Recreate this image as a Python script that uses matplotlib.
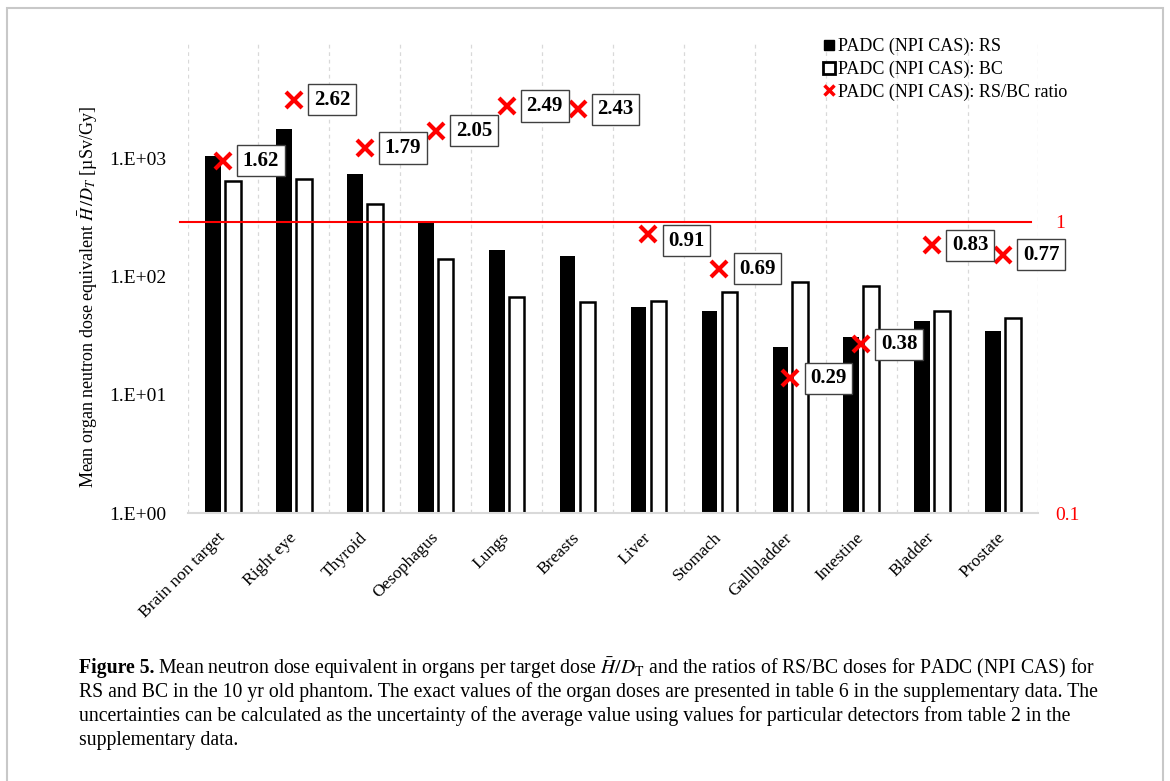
import matplotlib.pyplot as plt
import numpy as np
from matplotlib.lines import Line2D
from matplotlib.patches import Rectangle
from matplotlib.transforms import blended_transform_factory

plt.rcParams["font.family"] = ["Liberation Serif", "DejaVu Serif"]
plt.rcParams["mathtext.fontset"] = "stix"

# data
organs = ["Brain non target", "Right eye", "Thyroid", "Oesophagus", "Lungs", "Breasts",
          "Liver", "Stomach", "Gallbladder", "Intestine", "Bladder", "Prostate"]
rs_dose = [1047, 1762, 740, 288, 168, 148, 55.7, 50.6, 25.6, 31.0, 41.7, 34.3]
bc_dose = [644, 670, 411, 140, 67.3, 61.1, 61.6, 73.8, 89.0, 83.4, 50.6, 44.5]
ratio = [1.62, 2.62, 1.79, 2.05, 2.49, 2.43, 0.91, 0.69, 0.29, 0.38, 0.83, 0.77]
ratio_text = ["1.62", "2.62", "1.79", "2.05", "2.49", "2.43",
              "0.91", "0.69", "0.29", "0.38", "0.83", "0.77"]
ytick_vals = [1, 10, 100, 1000]
ytick_text = ["1.E+00", "1.E+01", "1.E+02", "1.E+03"]

fig = plt.figure(figsize=(11.7, 7.81), dpi=100)
ax = fig.add_axes([0.1603, 0.3428, 0.7273, 0.6022])
ax2 = ax.twinx()

x = np.arange(len(organs))
w = 0.22
ax.bar(x - 0.14, rs_dose, w, color="black", zorder=2)
ax.bar(x + 0.14, bc_dose, w, color="white", edgecolor="black", linewidth=1.8, zorder=2)

ax.set_yscale("log")
ax.set_ylim(1, 10 ** 3.972)
ax.set_xlim(-0.5, 11.5)
ax.set_yticks(ytick_vals)
ax.set_yticklabels(ytick_text, fontsize=14)
ax.yaxis.set_minor_locator(plt.NullLocator())
ax.tick_params(axis="y", length=0, pad=15)

# category labels, rotated, ending just under each category
ax.set_xticks(x)
ax.set_xticklabels([])
ax.tick_params(axis="x", which="major", length=0)
trans = blended_transform_factory(ax.transData, ax.transAxes)
for i, name in enumerate(organs):
    ax.text(x[i], -22 / 470, name, transform=trans, fontsize=12.6,
            rotation=45, ha="right", va="center", rotation_mode="anchor")

ax.set_xticks(np.arange(-0.5, 12, 1), minor=True)
ax.tick_params(axis="x", which="minor", length=0)
ax.grid(which="minor", axis="x", color="#d9d9d9", linestyle=(0, (3, 3)), linewidth=0.9, zorder=0)
ax.set_axisbelow(True)

for s in ["top", "left", "right"]:
    ax.spines[s].set_visible(False)
    ax2.spines[s].set_visible(False)
ax.spines["bottom"].set_color("#d9d9d9")
ax.spines["bottom"].set_linewidth(1.5)
ax2.spines["bottom"].set_visible(False)

# ratio axis
ax2.set_yscale("log")
ax2.set_ylim(0.1, 4.1)
ax2.set_yticks([0.1, 1])
ax2.set_yticklabels(["0.1", "1"], fontsize=14, color="red")
ax2.yaxis.set_minor_locator(plt.NullLocator())
ax2.tick_params(axis="y", length=0, pad=12)

ax2.plot([-0.6, 11.39], [1, 1], color="red", linewidth=1.5, clip_on=False, zorder=3)
ax2.plot(x, ratio, linestyle="none", marker="x", markersize=11, markeredgewidth=3,
         color="red", zorder=4)

for i in range(len(organs)):
    dy = -5 if ratio_text[i] == "0.91" else 0
    ax2.annotate(ratio_text[i], (x[i], ratio[i]), xytext=(27.4, dy),
                 textcoords="offset points", ha="center", va="center",
                 fontsize=15, fontweight="bold", zorder=5,
                 bbox=dict(boxstyle="square,pad=0.27", facecolor="white",
                           edgecolor="#404040", linewidth=1.0))

# y label
fig.text(88 / 1170, 1 - 297 / 781,
         r"Mean organ neutron dose equivalent $\bar{H}\,/D_T$ [µSv/Gy]",
         rotation=90, ha="center", va="center", fontsize=13)

# legend
handles = [
    Line2D([], [], linestyle="none", marker="s", markersize=7, color="black"),
    Line2D([], [], linestyle="none", marker="s", markersize=8, markerfacecolor="white",
           markeredgecolor="black", markeredgewidth=2),
    Line2D([], [], linestyle="none", marker="x", markersize=7, markeredgewidth=2.5, color="red"),
]
labels = ["PADC (NPI CAS): RS", "PADC (NPI CAS): BC", "PADC (NPI CAS): RS/BC ratio"]
fig.legend(handles, labels, loc="upper left", bbox_to_anchor=(823 / 1170, 1 - 38 / 781),
           frameon=False, fontsize=13, handlelength=0.7, handletextpad=0.15,
           labelspacing=0.3, borderpad=0, borderaxespad=0)

# frame around the chart
fig.patches.append(Rectangle((7 / 1170, -0.05), (1163 - 7) / 1170, 1.05 - 8 / 781,
                             transform=fig.transFigure, fill=False,
                             edgecolor="#c8c8c8", linewidth=1.5))

# caption
cap_size = 14.2
bold = fig.text(79 / 1170, 1 - 668 / 781, "Figure 5.", ha="left", va="center",
                fontsize=cap_size, fontweight="bold")
renderer = fig.canvas.get_renderer()
bb = bold.get_window_extent(renderer)
fig.text((bb.x1 + 4) / 1170, 1 - 668 / 781,
         r"Mean neutron dose equivalent in organs per target dose $\bar{H}/D_{\rm T}$ and the ratios of RS/BC doses for PADC (NPI CAS) for",
         ha="left", va="center", fontsize=cap_size)
caption = [
    "RS and BC in the 10 yr old phantom. The exact values of the organ doses are presented in table 6 in the supplementary data. The",
    "uncertainties can be calculated as the uncertainty of the average value using values for particular detectors from table 2 in the",
    "supplementary data.",
]
for k, line in enumerate(caption):
    fig.text(79 / 1170, 1 - (692 + 24 * k) / 781, line, ha="left", va="center", fontsize=cap_size)

fig.savefig("out.png", dpi=100)
